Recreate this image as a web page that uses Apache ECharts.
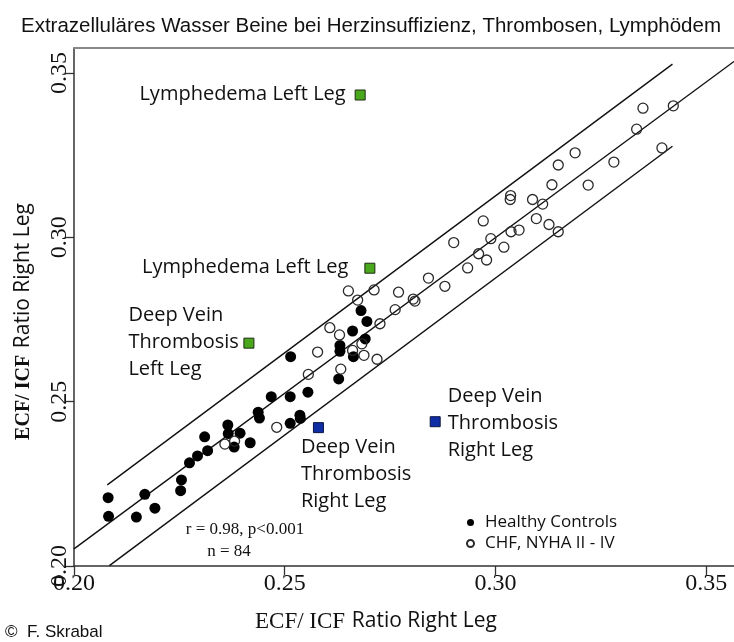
<!DOCTYPE html>
<html>
<head>
<meta charset="utf-8">
<script src="https://cdn.jsdelivr.net/npm/echarts@6/dist/echarts.min.js"></script>
<style>
  html, body { margin: 0; padding: 0; background: #fff; }
  #chart { width: 734px; height: 642px; }
</style>
</head>
<body>
<div id="chart"></div>
<script>
// ECF/ICF ratio: [right leg, left leg]
const healthy = [
  [0.2081, 0.2208], [0.2082, 0.2151], [0.2148, 0.2149], [0.2168, 0.2218], [0.2192, 0.2176],
  [0.2253, 0.2229], [0.2255, 0.2262], [0.2274, 0.2314], [0.2293, 0.2335], [0.2317, 0.2351],
  [0.2310, 0.2393], [0.2365, 0.2429], [0.2366, 0.2403], [0.2380, 0.2362], [0.2394, 0.2404],
  [0.2418, 0.2375], [0.2437, 0.2468], [0.2440, 0.2450], [0.2468, 0.2515], [0.2513, 0.2515],
  [0.2513, 0.2434], [0.2536, 0.2459], [0.2537, 0.2449], [0.2555, 0.2529], [0.2514, 0.2637],
  [0.2628, 0.2569], [0.2631, 0.2671], [0.2631, 0.2653], [0.2661, 0.2715], [0.2681, 0.2777],
  [0.2695, 0.2744], [0.2663, 0.2637], [0.2691, 0.2691]
];
const chf = [
  [0.2358, 0.2371], [0.2381, 0.2380], [0.2481, 0.2422], [0.2556, 0.2583], [0.2578, 0.2651],
  [0.2607, 0.2725], [0.2630, 0.2703], [0.2633, 0.2599], [0.2661, 0.2656], [0.2683, 0.2676],
  [0.2688, 0.2641], [0.2719, 0.2629], [0.2726, 0.2737], [0.2762, 0.2780], [0.2770, 0.2833],
  [0.2673, 0.2809], [0.2651, 0.2837], [0.2712, 0.2840], [0.2805, 0.2812], [0.2809, 0.2806],
  [0.2841, 0.2876], [0.2880, 0.2851], [0.2901, 0.2984], [0.2934, 0.2907], [0.2960, 0.2950],
  [0.2979, 0.2931], [0.2989, 0.2996], [0.3020, 0.2970], [0.2971, 0.3050], [0.3036, 0.3127],
  [0.3035, 0.3115], [0.3037, 0.3017], [0.3056, 0.3022], [0.3088, 0.3115], [0.3112, 0.3101],
  [0.3097, 0.3057], [0.3127, 0.3039], [0.3149, 0.3017], [0.3134, 0.3160], [0.3220, 0.3159],
  [0.3149, 0.3220], [0.3189, 0.3257], [0.3281, 0.3229], [0.3335, 0.3329], [0.3350, 0.3393],
  [0.3422, 0.3400], [0.3395, 0.3272]
];
// single patients
const lymphedema = [[0.2679, 0.3433], [0.2702, 0.2906]];
const dvtLeft = [[0.2415, 0.2678]];
const dvtRight = [[0.2580, 0.2421], [0.2857, 0.2439]];

// regression line and its bounds
const fitLine = [[0.2000, 0.2052], [0.3566, 0.3535]];
const upperLine = [[0.2079, 0.2247], [0.3420, 0.3527]];
const lowerLine = [[0.2084, 0.2001], [0.3420, 0.3277]];

const xTicks = [0.20, 0.25, 0.30, 0.35];
const yTicks = [0.20, 0.25, 0.30, 0.35];

const chart = echarts.init(document.getElementById('chart'));

const sans = 'Open Sans';
const serif = 'Liberation Serif';
const ink = '#111';
const labelText = { fontFamily: sans, fontSize: 20, color: ink, lineHeight: 27 };

function tickFmt(list) {
  return function (v) {
    return list.some(t => Math.abs(t - v) < 1e-6) ? v.toFixed(2) : '';
  };
}

function bandLine(data) {
  return {
    type: 'line', data: data, symbol: 'none', silent: true, z: 1,
    lineStyle: { color: '#111', width: 1.4 }
  };
}

const option = {
  animation: false,
  backgroundColor: '#fff',
  title: {
    text: 'Extrazelluläres Wasser Beine bei Herzinsuffizienz, Thrombosen, Lymphödem',
    left: 16, top: 11,
    textStyle: { fontFamily: 'Liberation Sans', fontSize: 20.5, fontWeight: 'normal', color: ink }
  },
  grid: { left: 74, top: 48, right: 0, bottom: 76 },
  legend: {
    orient: 'vertical', left: 466, top: 514, itemGap: 4, padding: 0,
    itemWidth: 7, itemHeight: 7,
    data: [
      { name: 'Healthy Controls', icon: 'circle' },
      { name: 'CHF, NYHA II - IV', icon: 'circle' }
    ],
    textStyle: { fontFamily: sans, fontSize: 17, color: ink, lineHeight: 17, padding: [0, 0, 0, 6] }
  },
  xAxis: [{
    type: 'value', min: 0.2, max: 0.3566, interval: 0.05,
    name: '{a|ECF/ ICF}  {b|Ratio Right Leg}',
    nameLocation: 'middle', nameGap: 44,
    nameTextStyle: {
      padding: [0, 56, 0, 0],
      rich: {
        a: { fontFamily: serif, fontSize: 23, color: ink },
        b: { fontFamily: sans, fontSize: 21, color: ink }
      }
    },
    splitLine: { show: false },
    axisLine: { onZero: false, lineStyle: { color: '#333', width: 1.5 } },
    axisTick: { length: 9, customValues: xTicks, lineStyle: { color: '#333', width: 1.3 } },
    axisLabel: {
      customValues: xTicks, formatter: tickFmt(xTicks), margin: 6,
      fontFamily: serif, fontSize: 24, color: ink
    }
  }, {
    type: 'value', position: 'top', min: 0.2, max: 0.3566,
    splitLine: { show: false },
    axisLine: { onZero: false, lineStyle: { color: '#888', width: 2 } },
    axisTick: { show: false }, axisLabel: { show: false }
  }],
  yAxis: {
    type: 'value', min: 0.2, max: 0.3576, interval: 0.05,
    name: '{a|ECF/ ICF}  {b|Ratio Right Leg}',
    nameLocation: 'middle', nameGap: 40, nameRotate: 90,
    nameTextStyle: {
      padding: [0, 29, 0, 0],
      rich: {
        a: { fontFamily: serif, fontSize: 20, fontWeight: 'bold', color: ink },
        b: { fontFamily: sans, fontSize: 21, color: ink }
      }
    },
    splitLine: { show: false },
    axisLine: { onZero: false, lineStyle: { color: '#333', width: 1.5 } },
    axisTick: { length: 9, customValues: yTicks, lineStyle: { color: '#333', width: 1.3 } },
    axisLabel: {
      customValues: yTicks, formatter: tickFmt(yTicks), rotate: 90, margin: 2,
      fontFamily: serif, fontSize: 24, color: ink
    }
  },
  series: [
    bandLine(fitLine),
    bandLine(upperLine),
    bandLine(lowerLine),
    {
      name: 'Healthy Controls', type: 'scatter', data: healthy, z: 3,
      symbol: 'circle', symbolSize: 11,
      itemStyle: { color: '#000', opacity: 1 }
    },
    {
      name: 'CHF, NYHA II - IV', type: 'scatter', data: chf, z: 3,
      symbol: 'circle', symbolSize: 10,
      itemStyle: { color: 'rgba(255,255,255,0)', borderColor: '#2a2a2a', borderWidth: 1.3, opacity: 1 }
    },
    {
      name: 'Lymphedema', type: 'scatter', z: 4, symbol: 'rect', symbolSize: 10,
      itemStyle: { color: '#4aa81c', borderColor: '#1d2b14', borderWidth: 1, opacity: 1 },
      data: [
        { value: lymphedema[0], label: { show: true, formatter: 'Lymphedema Left Leg', position: [-9, 5], align: 'right', verticalAlign: 'middle', ...labelText } },
        { value: lymphedema[1], label: { show: true, formatter: 'Lymphedema Left Leg', position: [-16, 5], align: 'right', verticalAlign: 'middle', ...labelText } }
      ]
    },
    {
      name: 'DVT left', type: 'scatter', z: 4, symbol: 'rect', symbolSize: 10,
      itemStyle: { color: '#4aa81c', borderColor: '#1d2b14', borderWidth: 1, opacity: 1 },
      data: [
        { value: dvtLeft[0], label: { show: true, formatter: 'Deep Vein\nThrombosis\nLeft Leg', position: [-115, 5], align: 'left', verticalAlign: 'middle', ...labelText } }
      ]
    },
    {
      name: 'DVT right', type: 'scatter', z: 4, symbol: 'rect', symbolSize: 10,
      itemStyle: { color: '#0f2ea6', borderColor: '#0c1540', borderWidth: 1, opacity: 1 },
      data: [
        { value: dvtRight[0], label: { show: true, formatter: 'Deep Vein\nThrombosis\nRight Leg', position: [-12, 52], align: 'left', verticalAlign: 'middle', ...labelText } },
        { value: dvtRight[1], label: { show: true, formatter: 'Deep Vein\nThrombosis\nRight Leg', position: [18, 7], align: 'left', verticalAlign: 'middle', ...labelText } }
      ]
    }
  ],
  graphic: [
    { type: 'text', x: 245, y: 530, style: { text: 'r = 0.98, p<0.001', font: '17px "Liberation Serif"', fill: ink, align: 'center', verticalAlign: 'middle' } },
    { type: 'text', x: 229, y: 552, style: { text: 'n = 84', font: '17px "Liberation Serif"', fill: ink, align: 'center', verticalAlign: 'middle' } },
    { type: 'text', x: 5, y: 632, style: { text: '©  F. Skrabal', font: '17px "Liberation Sans"', fill: ink, align: 'left', verticalAlign: 'middle' } }
  ]
};

chart.setOption(option);
</script>
</body>
</html>
